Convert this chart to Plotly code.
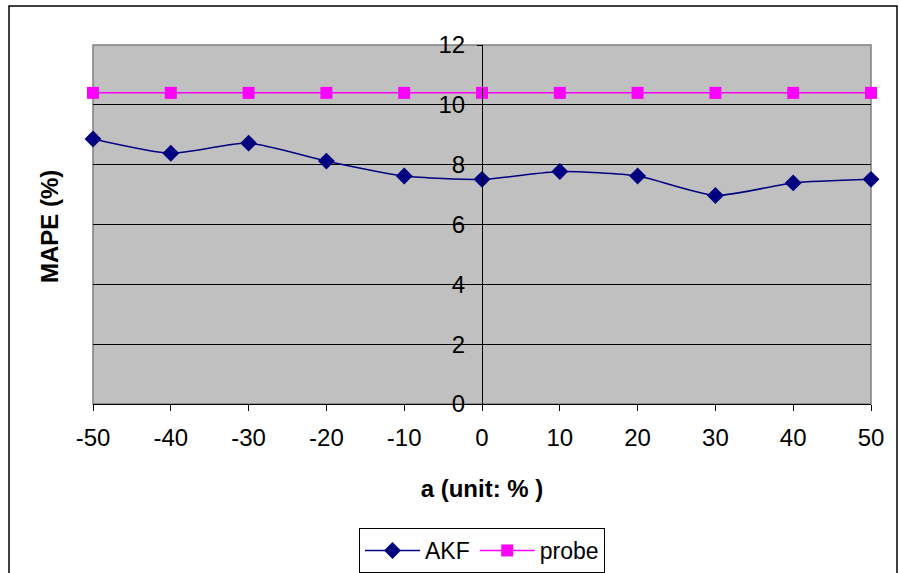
import plotly.graph_objects as go

a_vals = [-50, -40, -30, -20, -10, 0, 10, 20, 30, 40, 50]
a_labels = ["-50", "-40", "-30", "-20", "-10", "0", "10", "20", "30", "40", "50"]
akf = [8.86, 8.38, 8.72, 8.12, 7.62, 7.51, 7.77, 7.62, 6.97, 7.39, 7.51]
probe = [10.4] * 11
y_ticks = [0, 2, 4, 6, 8, 10, 12]

W, H = 899, 573
L, R, T, B = 93, 28, 45, 169

fig = go.Figure()
fig.add_trace(go.Scatter(x=a_vals, y=akf, name="AKF", mode="lines+markers", cliponaxis=False,
                         line=dict(color="#000080", width=1.5, shape="spline", smoothing=0.6),
                         marker=dict(symbol="diamond", size=13, color="#000080")))
fig.add_trace(go.Scatter(x=a_vals, y=probe, name="probe", mode="lines+markers", cliponaxis=False,
                         line=dict(color="#FF00FF", width=1.5),
                         marker=dict(symbol="square", size=12, color="#FF00FF")))

pw = W - L - R
ph = H - T - B
fig.update_layout(
    width=W, height=H,
    margin=dict(l=L, r=R, t=T, b=B, autoexpand=False),
    paper_bgcolor="white", plot_bgcolor="#C0C0C0",
    font=dict(family="Liberation Sans, Arial", size=24, color="black"),
    showlegend=True,
    legend=dict(orientation="h", x=0.5, xanchor="center", y=(404 - 528) / ph, yanchor="top",
                bordercolor="black", borderwidth=1, bgcolor="white",
                font=dict(size=23), itemwidth=55, tracegroupgap=0),
    xaxis=dict(range=[-50, 50], tickvals=a_vals, ticktext=a_labels, ticks="outside", ticklen=6,
               tickcolor="black", showgrid=False, zeroline=False, showline=True,
               linecolor="black", linewidth=1, tickfont=dict(size=24), fixedrange=True,
               automargin=False, ticklabelstandoff=6,
               title=dict(text="<b>a (unit: % )</b>", font=dict(size=24), standoff=30)),
    yaxis=dict(range=[0, 12], tickvals=y_ticks, ticks="outside", ticklen=5, tickcolor="black",
               showgrid=True, gridcolor="black", gridwidth=1, zeroline=False,
               showline=True, linecolor="black", linewidth=1, automargin=False,
               ticklabelstandoff=7,
               anchor="free", position=0.5, tickfont=dict(size=24)),
    shapes=[
        dict(type="rect", xref="paper", yref="paper", x0=0, x1=1, y0=0, y1=1,
             line=dict(color="#808080", width=1.5), layer="below"),
        dict(type="rect", xref="paper", yref="paper",
             x0=(9 - L) / pw, x1=(897 - L) / pw, y0=(404 - 590) / ph, y1=(404 - 6) / ph,
             line=dict(color="black", width=1.5), layer="below"),
    ],
    annotations=[
        dict(text="<b>MAPE (%)</b>", xref="paper", yref="paper", x=(49 - L) / pw, y=(404 - 227) / ph,
             textangle=-90, showarrow=False, font=dict(size=24), xanchor="center", yanchor="middle"),
    ],
)

fig.write_html("out.html")
